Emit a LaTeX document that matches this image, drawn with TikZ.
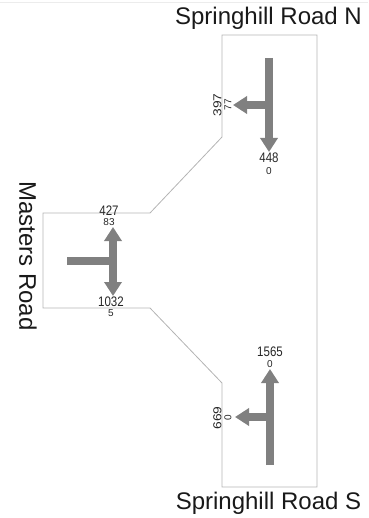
\documentclass[tikz,border=0pt]{standalone}
\usepackage{fontspec}
\setmainfont{Liberation Sans}
\usetikzlibrary{arrows.meta}

\definecolor{flowgray}{HTML}{808080}
\definecolor{edgegray}{HTML}{B4B4B4}

\begin{document}
\begin{tikzpicture}[x=1pt,y=-1pt,
    road/.style={draw=edgegray,line width=0.8pt},
    flow/.style={draw=flowgray,line width=8pt,-{Triangle[width=17pt,length=14pt]}},
    vol/.style={text=black!85,inner sep=0pt,font=\fontsize{11.5}{11.5}\selectfont,yscale=1.2},
    hvy/.style={text=black!85,inner sep=0pt,font=\fontsize{10}{10}\selectfont},
    roadname/.style={text=black!90,inner sep=0pt,font=\fontsize{24}{24}\selectfont}]

\useasboundingbox (0,0) rectangle (368,518);

% Faint rule at the top
\draw[gray!15,line width=0.6pt] (0,2) -- (368,2);

% Road outline
\draw[road] (222,35) -- (317,35) -- (317,487) -- (222,487) -- (222,383)
  -- (150,308) -- (43,308) -- (43,213) -- (150,213) -- (222,137) -- cycle;

% Road names
\node[roadname] (nameN) at (268.5,18) {Springhill Road N};
\node[roadname] (nameS) at (268.5,503) {Springhill Road S};
\node[roadname,rotate=-90] (nameW) at (28,256) {Masters Road};

% Springhill Road N approach
\coordinate (nIn) at (269,58);
\coordinate (nJoin) at (269,105);
\draw[flow] (nIn) -- (269,152);
\draw[flow] (nJoin) -- (233,105);
\node[vol,rotate=90] (n397) at (217.5,105) {397};
\node[hvy,rotate=90] (n77) at (228,105) {77};
\node[vol] (n448) at (269,158) {448};
\node[hvy] (n0a) at (269,171) {0};

% Masters Road approach
\coordinate (wIn) at (67,261);
\coordinate (wJoin) at (113,261);
\draw[flow,{Triangle[width=17pt,length=14pt]}-{Triangle[width=17pt,length=14pt]}]
  (113,227) -- (113,296);
\draw[draw=flowgray,line width=8pt] (wIn) -- (wJoin);
\node[vol] (w427) at (109,210.5) {427};
\node[hvy] (w83) at (109,222) {83};
\node[vol] (w1032) at (111,301.5) {1032};
\node[hvy] (w5) at (111,313) {5};

% Springhill Road S approach
\coordinate (sIn) at (270,465);
\coordinate (sJoin) at (270,417);
\draw[flow] (sIn) -- (270,369);
\draw[flow] (sJoin) -- (235,417);
\node[vol] (s1565) at (270,352) {1565};
\node[hvy] (s0a) at (270,364) {0};
\node[vol,rotate=90] (s669) at (217.5,418) {669};
\node[hvy,rotate=90] (s0b) at (228,418) {0};

\end{tikzpicture}
\end{document}
